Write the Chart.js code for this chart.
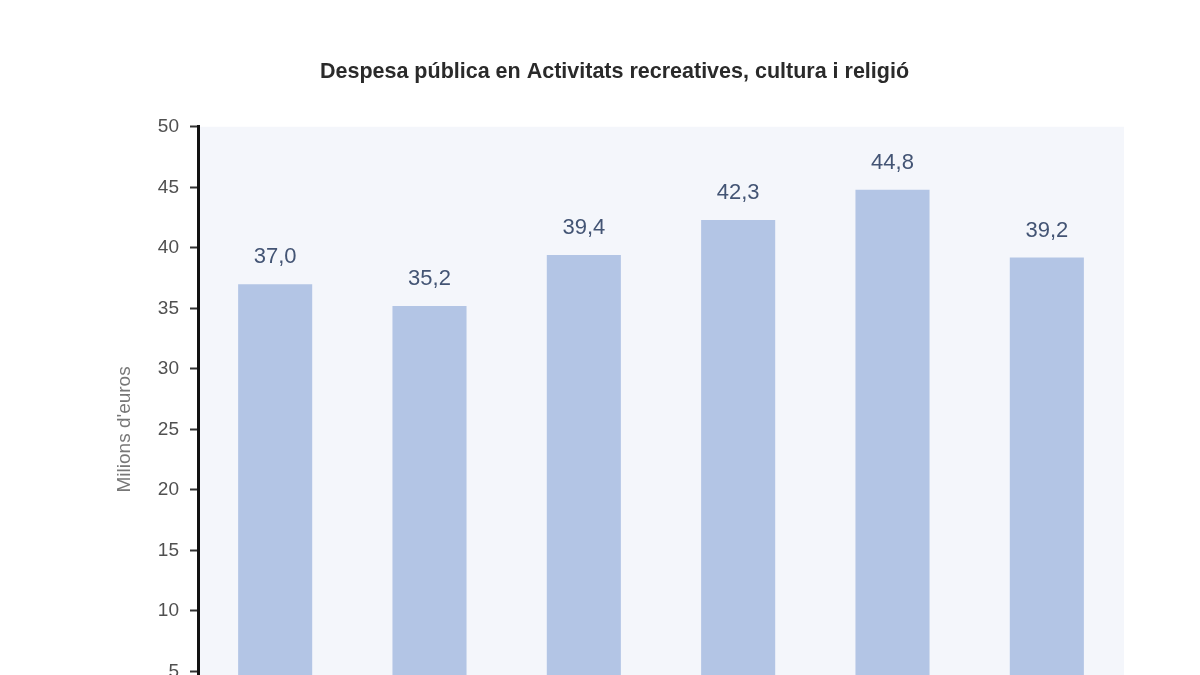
<!DOCTYPE html>
<html>
<head>
<meta charset="utf-8">
<script src="https://cdn.jsdelivr.net/npm/chart.js@4.4.1/dist/chart.umd.min.js"></script>
<style>
  html, body { margin: 0; padding: 0; background: #ffffff; overflow: hidden; }
  #wrap { width: 1200px; height: 800px; }
</style>
</head>
<body>
<div id="wrap"><canvas id="c" width="1200" height="800"></canvas></div>
<script>
const titleText = "Despesa pública en Activitats recreatives, cultura i religió";
const yAxisTitle = "Milions d'euros";
const categories = ["2017", "2018", "2019", "2020", "2021", "2022"];
const values = [37.0, 35.2, 39.4, 42.3, 44.8, 39.2];
const yTicks = [0, 5, 10, 15, 20, 25, 30, 35, 40, 45, 50];

const plotBg = {
  id: 'plotBg',
  beforeDraw(chart) {
    const {ctx, chartArea: a} = chart;
    ctx.save();
    ctx.fillStyle = '#f4f6fb';
    ctx.fillRect(a.left, a.top, a.right - a.left, a.bottom - a.top);
    ctx.restore();
  }
};

const valueLabels = {
  id: 'valueLabels',
  afterDatasetsDraw(chart) {
    const {ctx} = chart;
    const meta = chart.getDatasetMeta(0);
    ctx.save();
    ctx.font = '22px "Liberation Sans", Arial, sans-serif';
    ctx.fillStyle = '#435474';
    ctx.textAlign = 'center';
    ctx.textBaseline = 'middle';
    meta.data.forEach((bar, i) => {
      const txt = values[i].toFixed(1).replace('.', ',');
      ctx.fillText(txt, bar.x, bar.y - 27);
    });
    ctx.restore();
  }
};

new Chart(document.getElementById('c'), {
  type: 'bar',
  data: {
    labels: categories,
    datasets: [{
      data: values,
      backgroundColor: '#b3c5e5',
      borderWidth: 0,
      categoryPercentage: 1.0,
      barPercentage: 0.48
    }]
  },
  options: {
    responsive: false,
    animation: false,
    devicePixelRatio: 1,
    layout: { padding: { left: 105, right: 76, top: 0, bottom: 28 } },
    plugins: {
      legend: { display: false },
      tooltip: { enabled: false },
      title: {
        display: true,
        text: titleText,
        color: '#2a2a2a',
        font: { family: '"Liberation Sans", Arial, sans-serif', size: 21.5, weight: 'bold' },
        padding: { top: 59, bottom: 42 }
      }
    },
    scales: {
      x: {
        grid: { display: false },
        border: { display: false },
        ticks: { color: '#555', font: { family: '"Liberation Sans", Arial, sans-serif', size: 19 } },
        afterFit(s) { s.height = 40; }
      },
      y: {
        min: 0,
        max: 50,
        afterBuildTicks(s) { s.ticks = yTicks.map(v => ({ value: v })); },
        ticks: {
          color: '#505050',
          padding: 11,
          font: { family: '"Liberation Sans", Arial, sans-serif', size: 19 }
        },
        grid: {
          drawOnChartArea: false,
          drawTicks: true,
          tickLength: 8,
          tickColor: '#333',
          tickWidth: 2
        },
        border: { display: true, color: '#111', width: 3 },
        title: {
          display: true,
          text: yAxisTitle,
          color: '#777',
          font: { family: '"Liberation Sans", Arial, sans-serif', size: 19 },
          padding: { top: 8, bottom: 0 }
        },
        afterFit(s) { s.width = 93; }
      }
    }
  },
  plugins: [plotBg, valueLabels]
});
</script>
</body>
</html>
